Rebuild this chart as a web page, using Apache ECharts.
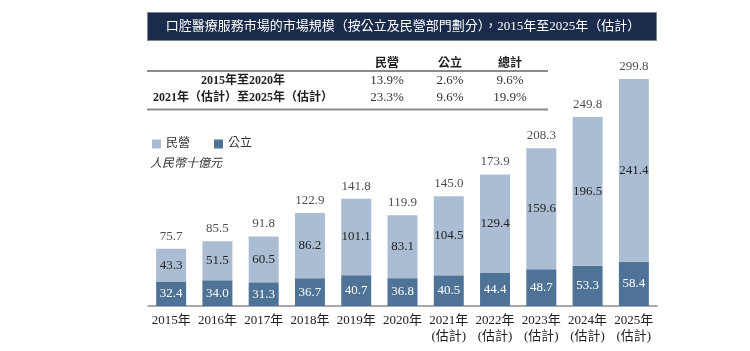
<!DOCTYPE html>
<html><head><meta charset="utf-8">
<script src="https://cdn.jsdelivr.net/npm/echarts@6/dist/echarts.min.js"></script>
<style>html,body{margin:0;padding:0;background:#fff}#c{width:750px;height:351px}</style>
</head><body><div id="c"></div>
<script>
const categories = ['2015年','2016年','2017年','2018年','2019年','2020年','2021年\n(估計)','2022年\n(估計)','2023年\n(估計)','2024年\n(估計)','2025年\n(估計)'];
const publicValues = [32.4,34.0,31.3,36.7,40.7,36.8,40.5,44.4,48.7,53.3,58.4];
const privateValues = [43.3,51.5,60.5,86.2,101.1,83.1,104.5,129.4,159.6,196.5,241.4];
const totalValues = [75.7,85.5,91.8,122.9,141.8,119.9,145.0,173.9,208.3,249.8,299.8];
const tableHeaders = ['民營','公立','總計'];
const tableRowLabels = ['2015年至2020年','2021年（估計）至2025年（估計）'];
const tableRows = [['13.9%','2.6%','9.6%'],['23.3%','9.6%','19.9%']];
const titleText = '口腔醫療服務市場的市場規模（按公立及民營部門劃分），2015年至2025年（估計）';
const unitText = '人民幣十億元';

const SERIF = '"Liberation Serif","Noto Sans CJK TC",serif';
const chart = echarts.init(document.getElementById('c'), null, {renderer:'canvas'});

const colX = [387, 450, 510];
const rowY = [81, 98];
const graphics = [
  {type:'rect', shape:{x:147.5,y:12.5,width:509,height:28}, style:{fill:'#1b2b4b', stroke:'#7a8598', lineWidth:1}},
  {type:'text', x:403, y:26.5, style:{text:titleText, fill:'#ffffff', font:'13px '+SERIF, textAlign:'center', textVerticalAlign:'middle'}},
  {type:'line', shape:{x1:147,y1:71,x2:548,y2:71}, style:{stroke:'#8a8a8a', lineWidth:2}},
  {type:'line', shape:{x1:147,y1:109.5,x2:548,y2:109.5}, style:{stroke:'#8a8a8a', lineWidth:2}},
  {type:'text', x:150, y:164, style:{text:unitText, fill:'#333', font:'italic 12px '+SERIF, textAlign:'left', textVerticalAlign:'middle'}}
];
tableHeaders.forEach((h,i)=>graphics.push({type:'text', x:colX[i], y:62, style:{text:h, fill:'#222', font:'bold 12px "Noto Sans CJK TC",sans-serif', textAlign:'center', textVerticalAlign:'middle'}}));
tableRowLabels.forEach((l,r)=>{
  graphics.push({type:'text', x:243, y:rowY[r], style:{text:l, fill:'#222', font:'bold 12px '+SERIF, textAlign:'center', textVerticalAlign:'middle'}});
  tableRows[r].forEach((v,i)=>graphics.push({type:'text', x:colX[i], y:rowY[r], style:{text:v, fill:'#333', font:'13px '+SERIF, textAlign:'center', textVerticalAlign:'middle'}}));
});

chart.setOption({
  animation:false,
  backgroundColor:'#fff',
  grid:{left:148, width:509, top:78.9, height:227.1},
  legend:{left:147, top:133, itemWidth:9, itemHeight:9, itemGap:24, icon:'rect',
    textStyle:{fontFamily:SERIF, fontSize:12, color:'#333'},
    data:['民營','公立']},
  xAxis:{type:'category', data:categories,
    axisLine:{lineStyle:{color:'#8c8c8c', width:1.5}},
    axisTick:{show:false},
    axisLabel:{fontFamily:SERIF, fontSize:13, color:'#222', lineHeight:16, margin:7, interval:0}},
  yAxis:{type:'value', min:0, max:300, show:false, splitLine:{show:false}},
  series:[
    {name:'公立', type:'bar', stack:'s', barWidth:30, data:publicValues,
      itemStyle:{color:'#4f7396'},
      label:{show:true, position:'inside', color:'#fff', fontFamily:SERIF, fontSize:13, formatter:p=>p.value.toFixed(1)}},
    {name:'民營', type:'bar', stack:'s', barWidth:30, data:privateValues,
      itemStyle:{color:'#abbdd3'},
      label:{show:true, position:'inside', color:'#222', fontFamily:SERIF, fontSize:13, formatter:p=>p.value.toFixed(1)}},
    {name:'總計', type:'scatter', symbolSize:0, data:totalValues, silent:true,
      label:{show:true, position:'top', distance:6, color:'#222', fontFamily:SERIF, fontSize:13, formatter:p=>p.value.toFixed(1)}}
  ],
  graphic:graphics
});
</script></body></html>
